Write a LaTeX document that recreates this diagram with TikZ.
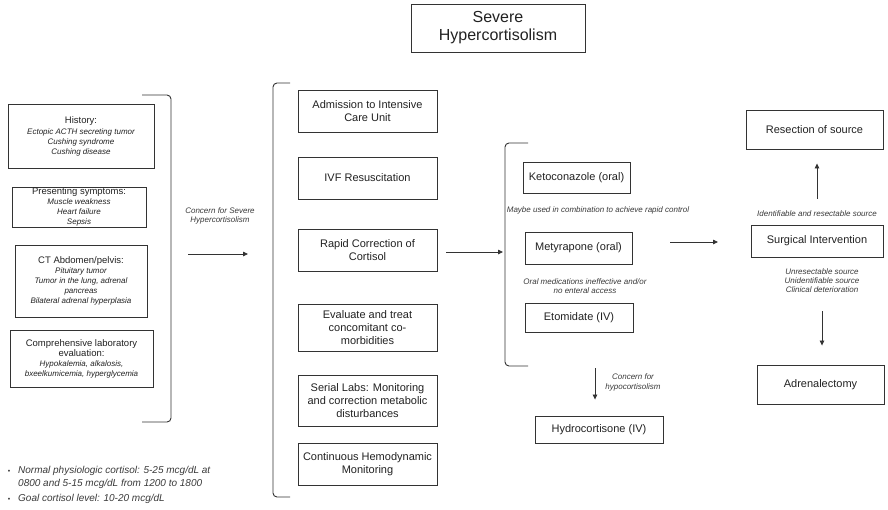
\documentclass[tikz,border=0pt]{standalone}
\usepackage{fontspec}
\setmainfont{Liberation Sans}
\usetikzlibrary{arrows.meta}
\newcommand\fsz[2]{\fontsize{#1}{#2}\selectfont}
\definecolor{ink}{HTML}{222222}
\definecolor{linec}{HTML}{333333}
\definecolor{soft}{HTML}{3A3A3A}

\begin{document}
\begin{tikzpicture}[x=1pt,y=-1pt,
  box/.style={draw=linec, line width=0.9pt, inner sep=0pt, align=center, text=ink, font=\fsz{11}{13}},
  lbox/.style={draw=linec, line width=0.9pt, inner sep=0pt, align=center, text=ink, font=\fsz{8}{10}\itshape},
  note/.style={inner sep=0pt, align=center, text=soft, font=\fsz{8}{9}\itshape},
  brk/.style={draw=linec, line width=0.9pt, rounded corners=4pt},
  arr/.style={draw=linec, line width=0.8pt, -{Triangle[length=5pt,width=4.5pt]}},
]
\fill[white] (0,0) rectangle (888,509);
\useasboundingbox (0,0) rectangle (888,509);

% title
\node[box, minimum width=174pt, minimum height=48pt, font=\fsz{16}{18}] (title) at (498,28) {Severe\\Hypercortisolism};

% presentation column
\node[lbox, minimum width=146pt, minimum height=64pt] (hist) at (81,136)
  {{\upshape\fsz{9.5}{11}History:}\\[1pt]Ectopic ACTH secreting tumor\\Cushing syndrome\\Cushing disease};
\node[lbox, minimum width=134pt, minimum height=40pt] (pres) at (79,207)
  {{\upshape\fsz{9.5}{11}Presenting symptoms:}\\Muscle weakness\\Heart failure\\Sepsis};
\node[lbox, minimum width=132pt, minimum height=72pt] (ct) at (81,281)
  {{\upshape\fsz{9.5}{11}CT Abdomen/pelvis:}\\Pituitary tumor\\Tumor in the lung, adrenal\\pancreas\\Bilateral adrenal hyperplasia};
\node[lbox, minimum width=143pt, minimum height=57pt] (lab) at (81.5,358.5)
  {{\upshape\fsz{9.5}{11}Comprehensive laboratory}\\{\upshape\fsz{9.5}{11}evaluation:}\\Hypokalemia, alkalosis,\\bxeelkumicemia, hyperglycemia};
\draw[brk] (142,95) -- (171,95) -- (171,422) -- (142,422);

\node[note] (conc) at (220,216) {Concern for Severe\\Hypercortisolism};
\coordinate (a1s) at (188,254);
\coordinate (a1e) at (248,254);
\draw[arr] (a1s) -- (a1e);

% initial management column
\draw[brk] (290,83) -- (273,83) -- (273,497) -- (290,497);
\node[box, minimum width=139pt, minimum height=42pt] (adm) at (367.5,111) {Admission to Intensive\\Care Unit};
\node[box, minimum width=139pt, minimum height=42pt] (ivf) at (367.5,178) {IVF Resuscitation};
\node[box, minimum width=139pt, minimum height=42pt] (rap) at (367.5,250) {Rapid Correction of\\Cortisol};
\node[box, minimum width=139pt, minimum height=47pt] (eva) at (367.5,327.5) {Evaluate and treat\\concomitant co-\\morbidities};
\node[box, minimum width=139pt, minimum height=51pt] (ser) at (367.5,400.5) {Serial Labs: Monitoring\\and correction metabolic\\disturbances};
\node[box, minimum width=139pt, minimum height=42pt] (con) at (367.5,464) {Continuous Hemodynamic\\Monitoring};

\coordinate (medin) at (503,252);
\draw[arr, shorten <=9pt] (rap.east |- medin) -- (medin);

% medical therapy column
\draw[brk] (528,143) -- (505,143) -- (505,366) -- (528,366);
\node[box, minimum width=107pt, minimum height=31pt] (keto) at (576.5,177.5) {Ketoconazole (oral)};
\node[note] (combo) at (598,210) {Maybe used in combination to achieve rapid control};
\node[box, minimum width=107pt, minimum height=32pt] (mety) at (578.5,248) {Metyrapone (oral)};
\node[note] (oral) at (585,286) {Oral medications ineffective and/or\\no enteral access};
\node[box, minimum width=108pt, minimum height=29pt] (eto) at (579,317.5) {Etomidate (IV)};

\node[box, minimum width=128pt, minimum height=27pt] (hydro) at (599,429.5) {Hydrocortisone (IV)};
\node[note, font=\fsz{8}{10}\itshape] (hypo) at (633,382) {Concern for\\hypocortisolism};
\coordinate (hs) at (595,368);
\draw[arr, shorten >=16pt] (hs) -- (hs |- hydro.north);

\coordinate (m1) at (670,242);
\coordinate (m2) at (718,242);
\draw[arr] (m1) -- (m2);

% surgical column
\node[box, minimum width=137pt, minimum height=39pt] (res) at (814.5,129.5) {Resection of source};
\node[box, minimum width=132pt, minimum height=32pt] (surg) at (817,241) {Surgical Intervention};
\node[box, minimum width=127pt, minimum height=39pt] (adr) at (820.5,384.5) {Adrenalectomy};
\draw[arr, shorten <=26pt, shorten >=14pt] (surg.north) -- (surg.north |- res.south);
\node[note] (ident) at (817,214) {Identifiable and resectable source};
\node[note] (unres) at (822,281) {Unresectable source\\Unidentifiable source\\Clinical deterioration};
\coordinate (d1) at (822,311);
\draw[arr, shorten >=19pt] (d1) -- (d1 |- adr.north);

% reference values
\node[inner sep=0pt, text=soft, font=\fsz{7}{9}, anchor=base] (dot1) at (9,473) {\textbullet};
\node[inner sep=0pt, text=soft, font=\fsz{7}{9}, anchor=base] (dot2) at (9,501) {\textbullet};
\node[inner sep=0pt, text=soft, font=\fsz{10}{13}\itshape, anchor=base west] (n1) at (18,473.5) {Normal physiologic cortisol: 5-25 mcg/dL at};
\node[inner sep=0pt, text=soft, font=\fsz{10}{13}\itshape, anchor=base west] (n2) at (18,486.5) {0800 and 5-15 mcg/dL from 1200 to 1800};
\node[inner sep=0pt, text=soft, font=\fsz{10}{13}\itshape, anchor=base west] (n3) at (18,501.5) {Goal cortisol level: 10-20 mcg/dL};
\end{tikzpicture}
\end{document}
